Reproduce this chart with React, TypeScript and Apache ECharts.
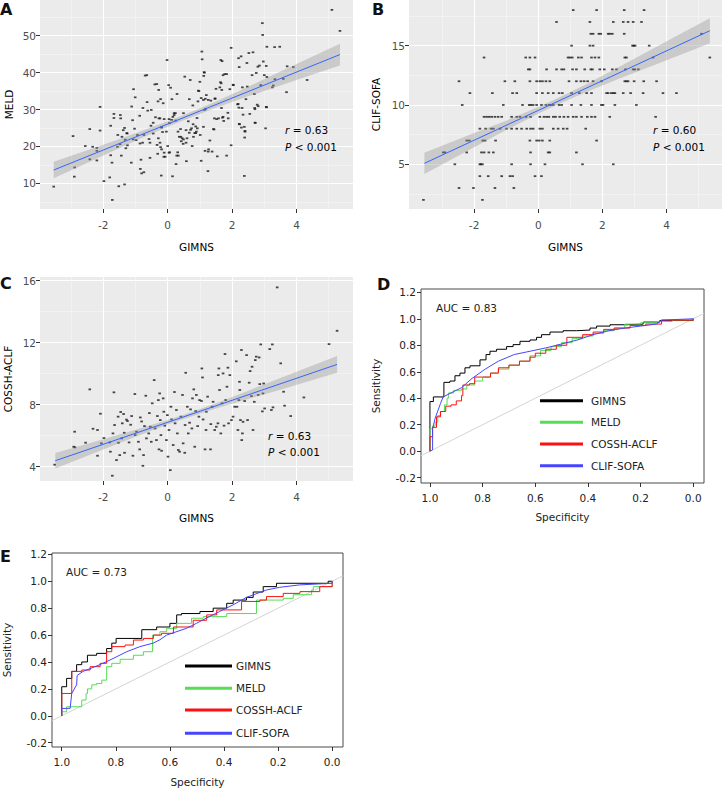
import React, { useEffect, useRef } from "react";
import * as echarts from "echarts";

const FONT = "DejaVu Sans";

// ---------- Panel A: GIMNS vs MELD ----------
const aGimns = [
  -3.54, -2.94, -2.9, -2.89, -2.56, -2.42, -2.42, -2.33, -2.2, -2.2, -2.2, -2.1, -2.1, -1.98, -1.8, -1.77, -1.73, -1.72, -1.77, -1.67,
  -1.67, -1.56, -1.52, -1.55, -1.47, -1.46, -1.44, -1.42, -1.34, -1.34, -1.32, -1.3, -1.26, -1.25, -1.12, -1.13, -1.09, -1.06, -1.03, -1.01,
  -0.98, -0.94, -0.87, -0.85, -0.83, -0.81, -0.78, -0.77, -0.74, -0.74, -0.7, -0.65, -0.62, -0.58, -0.55, -0.52, -0.51, -0.45, -0.4, -0.38,
  -0.33, -0.31, -0.3, -0.28, -0.27, -0.24, -0.2, -0.19, -0.19, -0.16, -0.14, -0.11, -0.11, -0.08, -0.02, 0.0, 0.03, 0.05, 0.06, 0.09,
  0.13, 0.15, 0.16, 0.2, 0.24, 0.26, 0.29, 0.31, 0.33, 0.36, 0.4, 0.42, 0.45, 0.48, 0.49, 0.53, 0.57, 0.58, 0.6, 0.64,
  0.67, 0.7, 0.71, 0.76, 0.78, 0.79, 0.84, 0.87, 0.89, 0.91, 0.94, 0.97, 1.0, 1.01, 1.04, 1.06, 1.07, 1.11, 1.12, 1.13,
  1.14, 1.17, 1.18, 1.2, 1.25, 1.27, 1.31, 1.34, 1.38, 1.42, 1.47, 1.5, 1.54, 1.58, 1.62, 1.64, 1.65, 1.67, 1.69, 1.7,
  1.72, 1.74, 1.77, 1.83, 1.87, 1.97, 1.97, 2.03, 2.17, 2.2, 2.21, 2.22, 2.23, 2.28, 2.29, 2.31, 2.32, 2.34, 2.38, 2.39,
  2.4, 2.43, 2.46, 2.47, 2.52, 2.55, 2.62, 2.65, 2.69, 2.7, 2.72, 2.75, 2.78, 2.8, 2.85, 2.89, 2.94, 2.95, 2.97, 3.0,
  3.04, 3.06, 3.06, 3.08, 3.08, 3.25, 3.28, 3.32, 3.33, 3.48, 3.59, 3.69, 3.71, 3.9, 4.33, 5.1, 5.35,
  -0.64, -0.34, -0.22, -0.24, -0.19, -0.04, 0.04, 0.12, 0.2, 0.25, 0.32, 0.41, 0.49, 0.57, 0.67, 0.74, 0.8, 0.87, 0.92, -0.29,
  -0.22, -0.12, 0.04, 0.28, -0.45, -0.55, -0.86, -1.07, -1.27, -1.38, -1.48, 1.14, 0.95, 1.11, 1.26, 1.47, 1.66, 1.68, 1.93, 1.83,
  2.04, 2.19, 2.4, 2.38, 2.22, 1.45, 1.52, 1.88, 1.72, 1.26, 1.16, 1.04, 1.44, 2.71, 2.81, 3.07, 2.71,
];
const aMeld = [
  9.1, 22.8, 11.8, 14.3, 20.1, 24.7, 16.5, 19.9, 19.6, 18.8, 16.2, 24.3, 30.7, 10.6, 11.6, 25.6, 15.6, 5.5, 17.6, 28.8,
  27.7, 19.9, 9.2, 23.1, 28.5, 27.6, 17.5, 22.6, 25.0, 9.7, 21.8, 19.5, 23.5, 20.3, 30.8, 15.6, 27.1, 35.5, 24.8, 33.3,
  21.7, 23.1, 28.3, 13.9, 16.4, 12.7, 21.0, 30.4, 13.0, 23.1, 39.2, 39.3, 29.7, 22.0, 16.9, 25.6, 29.9, 23.5, 36.8, 27.9,
  20.4, 18.0, 32.2, 35.3, 27.6, 21.0, 12.1, 25.1, 19.2, 23.9, 31.7, 27.4, 18.3, 17.2, 43.4, 20.1, 36.6, 26.3, 18.4, 35.9,
  32.8, 11.9, 28.0, 29.0, 29.0, 15.2, 34.2, 18.4, 17.5, 22.6, 24.7, 21.4, 22.2, 20.7, 29.0, 38.9, 24.4, 16.0, 22.2, 26.8,
  32.8, 38.0, 24.5, 20.1, 31.1, 26.0, 23.6, 25.4, 24.0, 27.7, 32.2, 35.0, 37.5, 23.1, 33.1, 45.7, 43.6, 25.3, 39.1, 40.1,
  29.9, 32.9, 30.2, 33.9, 13.3, 19.2, 21.6, 32.4, 18.6, 24.7, 32.9, 35.6, 17.3, 27.6, 36.0, 37.4, 43.4, 30.4, 43.1, 27.8,
  39.3, 26.9, 39.6, 17.5, 29.1, 46.7, 20.3, 36.7, 31.4, 43.9, 30.5, 41.5, 26.0, 44.4, 25.1, 30.4, 36.0, 28.6, 12.0, 22.4,
  24.2, 32.8, 42.6, 36.2, 45.3, 28.8, 39.3, 45.5, 34.2, 30.4, 26.4, 39.9, 31.3, 41.6, 41.9, 36.6, 53.4, 50.2, 43.0, 39.3,
  24.9, 30.7, 41.8, 47.0, 38.8, 36.0, 36.5, 46.9, 38.2, 47.0, 38.3, 34.7, 41.7, 41.5, 38.0, 57.0, 51.3,
  32.0, 36.9, 32.8, 27.6, 25.3, 24.0, 27.4, 27.2, 28.5, 27.0, 24.0, 22.6, 21.9, 21.0, 23.7, 24.9, 22.6, 23.6, 24.9, 22.2,
  19.8, 17.2, 18.3, 17.5, 26.4, 21.0, 20.8, 21.9, 23.6, 24.4, 20.6, 40.0, 35.1, 32.6, 32.6, 33.0, 37.1, 35.3, 35.5, 39.6,
  36.6, 31.5, 24.0, 25.3, 26.1, 27.6, 27.4, 27.6, 28.0, 18.6, 18.8, 16.1, 24.6, 30.1, 30.9, 30.6, 26.4,
];
const aFitX = [-3.54, 5.35];
const aFitY = [13.6, 44.89];
const aBandX = [-3.54, -2, -1, 0, 0.5, 1.5, 2.5, 3.5, 4.5, 5.35];
const aBandLow = [11.35, 17.57, 21.54, 25.31, 27.12, 30.49, 33.56, 36.48, 39.45, 41.94];
const aBandHigh = [15.85, 20.47, 23.54, 26.81, 28.52, 32.19, 36.16, 40.28, 44.35, 47.84];

// ---------- Panel B: GIMNS vs CLIF-SOFA (integer scores) ----------
const bSofaLevels = [18, 17, 16, 15, 14, 13, 12, 11, 10, 9, 8, 7, 6, 5, 4, 3, 2];
const bGimnsByLevel = [
  [1.09, 1.82, 2.68, 3.3],
  [0.57, 1.61, 2.34, 2.65, 2.8, 2.96, 3.22],
  [1.64, 1.71, 1.89, 1.95, 2.18, 2.23, 2.31, 2.68, 5.09],
  [1.04, 1.61, 1.71, 2.94, 2.98, 3.02, 3.46],
  [-1.69, -0.39, -0.26, -0.1, 0.93, 0.99, 1.06, 1.25, 1.35, 1.66, 1.77, 1.89, 2.7, 2.75, 3.58, 5.35],
  [-0.31, -0.26, 0.26, 0.57, 0.73, 0.8, 1.07, 1.19, 1.45, 1.64, 1.69, 1.92, 2.06, 2.31, 2.44, 2.72, 2.96, 3.01, 3.12],
  [-2.47, -1.04, -0.73, -0.26, -0.05, 0.05, 0.13, 0.24, 0.36, 0.96, 1.19, 1.33, 1.43, 1.54, 1.71, 1.97, 2.7, 2.75, 2.8, 2.99, 3.29, 3.69],
  [-2.13, -1.43, -0.8, -0.67, -0.05, 0.13, 0.31, 0.47, 0.65, 0.75, 1.04, 1.28, 1.51, 1.66, 2.13, 2.18, 2.28, 2.34, 2.39, 2.65, 2.88, 3.27, 3.89, 4.31],
  [-2.37, -1.09, -0.49, -0.28, -0.23, -0.16, -0.05, 0.1, 0.24, 0.34, 0.39, 0.47, 0.65, 0.73, 1.04, 1.33, 1.66, 1.97, 2.02, 2.39, 3.06],
  [-1.69, -1.61, -1.53, -1.45, -1.35, -1.25, -1.14, -0.83, -0.67, -0.57, -0.38, -0.24, 0.05, 0.18, 0.26, 0.33, 0.47, 0.54, 0.67, 0.8, 0.93, 1.09, 1.19, 1.35, 1.53, 1.66, 1.77, 2.23, 3.66],
  [-1.82, -1.64, -1.47, -1.4, -1.19, -0.99, -0.83, -0.67, -0.52, -0.36, -0.24, -0.16, 0.05, 0.13, 0.47, 0.62, 0.78, 0.9, 1.48],
  [-2.23, -2.15, -1.73, -1.66, -1.33, -0.26, -0.05, 0.03, 0.13, 0.36, 1.82],
  [-2.96, -2.91, -2.23, -1.77, -1.69, -1.54, -1.4, -0.24, 0.31, 0.36, 1.19],
  [-2.6, -1.82, -1.79, -1.74, -0.83, -0.24, 0.21, 1.38, 2.34],
  [-1.82, -1.56, -1.14, -0.88, -0.8, -0.1, 0.1],
  [-2.47, -2.02, -1.35, -0.76],
  [-3.58, -1.74],
];
const bFitX = [-3.55, 5.35];
const bFitY = [5.08, 16.26];
const bBandX = [-3.55, -2, -1, 0, 0.5, 1.5, 2.5, 3.5, 4.5, 5.35];
const bBandLow = [4.18, 6.43, 7.88, 9.26, 9.91, 11.1, 12.18, 13.24, 14.29, 15.21];
const bBandHigh = [5.98, 7.63, 8.68, 9.82, 10.43, 11.74, 13.18, 14.64, 16.09, 17.31];

// ---------- Panel C: GIMNS vs COSSH-ACLF ----------
const cGimns = [
  -3.51, -2.89, -2.92, -2.88, -2.55, -2.42, -2.32, -2.18, -2.18, -2.09, -2.06, -1.98, -1.8, -1.78, -1.72, -1.7, -1.67, -1.65, -1.59, -1.54,
  -1.53, -1.49, -1.46, -1.43, -1.41, -1.37, -1.35, -1.34, -1.28, -1.25, -1.2, -1.15, -1.12, -1.08, -1.02, -1.01, -0.97, -0.91, -0.87, -0.85,
  -0.81, -0.77, -0.75, -0.72, -0.68, -0.66, -0.59, -0.57, -0.54, -0.51, -0.48, -0.42, -0.39, -0.35, -0.32, -0.29, -0.27, -0.25, -0.23, -0.21,
  -0.19, -0.14, -0.12, -0.09, -0.04, -0.01, 0.01, 0.04, 0.08, 0.1, 0.12, 0.17, 0.21, 0.23, 0.27, 0.3, 0.33, 0.37, 0.41, 0.46,
  0.48, 0.53, 0.54, 0.56, 0.61, 0.64, 0.68, 0.71, 0.75, 0.77, 0.81, 0.84, 0.87, 0.89, 0.93, 0.97, 0.99, 1.05, 1.06, 1.08,
  1.1, 1.16, 1.19, 1.2, 1.24, 1.33, 1.34, 1.38, 1.41, 1.46, 1.51, 1.56, 1.57, 1.59, 1.61, 1.65, 1.69, 1.72, 1.75, 1.78,
  1.8, 1.84, 1.87, 1.89, 1.93, 1.98, 2.03, 2.08, 2.13, 2.15, 2.18, 2.21, 2.23, 2.24, 2.26, 2.29, 2.3, 2.32, 2.34, 2.39,
  2.45, 2.48, 2.53, 2.56, 2.6, 2.62, 2.65, 2.69, 2.72, 2.75, 2.81, 2.84, 2.86, 2.89, 2.94, 2.96, 2.98, 3.01, 3.17, 3.22,
  3.25, 3.27, 3.4, 3.51, 3.6, 3.63, 3.82, 4.23, 5.01, 5.26,
];
const cCossh = [
  4.13, 6.26, 5.29, 5.25, 5.55, 8.99, 6.45, 6.37, 4.71, 7.42, 5.51, 5.85, 5.57, 4.97, 3.42, 6.15, 8.8, 6.69, 4.43, 7.23,
  5.55, 4.75, 7.53, 5.83, 6.8, 7.4, 6.19, 4.9, 7.04, 6.95, 5.57, 6.71, 7.27, 4.71, 8.69, 6.04, 6.26, 5.61, 5.12, 7.18,
  6.92, 4.06, 4.75, 6.62, 8.58, 5.83, 6.15, 7.46, 6.58, 5.61, 8.09, 9.59, 6.47, 5.72, 7.27, 8.3, 5.12, 8.73, 7.01, 6.04,
  5.03, 8.41, 7.55, 6.65, 5.72, 7.33, 4.65, 6.37, 3.78, 7.87, 7.05, 5.4, 8.82, 6.8, 7.66, 6.15, 5.08, 4.97, 7.23, 8.63,
  5.51, 4.9, 6.69, 10.06, 7.87, 6.15, 6.84, 7.7, 6.47, 8.41, 8.99, 5.29, 7.59, 8.63, 6.62, 7.23, 8.3, 8.24, 10.34, 9.76,
  7.05, 5.12, 6.37, 7.55, 8.52, 5.12, 6.75, 7.87, 8.19, 6.37, 6.58, 6.8, 9.91, 10.34, 8.95, 6.15, 8.09, 10.02, 6.65, 11.27,
  8.3, 9.16, 10.39, 6.8, 9.91, 7.01, 7.23, 7.87, 10.8, 7.87, 6.37, 8.3, 9.48, 8.95, 7.01, 11.53, 5.72, 6.15, 6.9, 8.24,
  11.2, 7.01, 9.42, 10.17, 8.56, 10.45, 6.37, 8.19, 10.88, 11.1, 8.63, 11.05, 9.33, 11.89, 7.57, 8.73, 9.37, 7.76, 11.59, 7.66,
  11.89, 7.83, 15.57, 10.67, 8.84, 7.94, 7.27, 8.47, 11.91, 12.77,
];
const cFitX = [-3.49, 5.26];
const cFitY = [4.39, 10.6];
const cBandX = [-3.49, -2, -1, 0, 0.5, 1.5, 2.5, 3.5, 4.5, 5.26];
const cBandLow = [3.89, 5.12, 5.94, 6.72, 7.08, 7.76, 8.37, 8.97, 9.59, 10.06];
const cBandHigh = [4.89, 5.78, 6.38, 7.02, 7.36, 8.1, 8.91, 9.73, 10.53, 11.14];

// ---------- Panel D: ROC curves (specificity, sensitivity) ----------
const dGimnsSpec = [1.0, 1.0, 0.987, 0.947, 0.924, 0.905, 0.886, 0.867, 0.848, 0.81, 0.787, 0.772, 0.747, 0.709, 0.684, 0.658, 0.62, 0.595, 0.576, 0.544, 0.494, 0.443, 0.392, 0.367, 0.316, 0.253, 0.19, 0.127, 0.0];
const dGimnsSens = [0, 0.375, 0.41, 0.52, 0.53, 0.57, 0.59, 0.63, 0.645, 0.69, 0.73, 0.755, 0.77, 0.79, 0.805, 0.83, 0.84, 0.86, 0.88, 0.9, 0.91, 0.915, 0.93, 0.945, 0.955, 0.96, 0.975, 0.987, 1.0];
const dMeldSpec = [1.0, 1.0, 0.99, 0.98, 0.97, 0.96, 0.945, 0.935, 0.93, 0.91, 0.88, 0.86, 0.83, 0.8, 0.77, 0.74, 0.7, 0.66, 0.62, 0.58, 0.54, 0.5, 0.46, 0.42, 0.38, 0.34, 0.3, 0.26, 0.2, 0.14, 0.08, 0.0];
const dMeldSens = [0, 0.17, 0.19, 0.22, 0.27, 0.3, 0.35, 0.4, 0.44, 0.46, 0.47, 0.5, 0.53, 0.56, 0.59, 0.62, 0.65, 0.68, 0.72, 0.76, 0.79, 0.82, 0.85, 0.87, 0.89, 0.91, 0.93, 0.96, 0.97, 0.98, 0.99, 1.0];
const dCosshSpec = [1.0, 1.0, 0.99, 0.975, 0.96, 0.94, 0.92, 0.9, 0.88, 0.875, 0.85, 0.83, 0.8, 0.77, 0.74, 0.7, 0.66, 0.62, 0.6, 0.56, 0.52, 0.48, 0.45, 0.42, 0.38, 0.34, 0.3, 0.24, 0.18, 0.12, 0.08, 0.0];
const dCosshSens = [0, 0.11, 0.18, 0.26, 0.3, 0.34, 0.35, 0.38, 0.42, 0.5, 0.51, 0.56, 0.56, 0.59, 0.63, 0.65, 0.68, 0.71, 0.74, 0.77, 0.8, 0.86, 0.86, 0.88, 0.9, 0.92, 0.93, 0.95, 0.96, 0.99, 0.99, 1.0];
const dClifSpec = [1.0, 0.99, 0.99, 0.98, 0.96, 0.95, 0.92, 0.88, 0.84, 0.79, 0.74, 0.68, 0.62, 0.56, 0.5, 0.44, 0.38, 0.32, 0.26, 0.2, 0.14, 0.12, 0.0];
const dClifSens = [0, 0.01, 0.17, 0.25, 0.36, 0.41, 0.44, 0.48, 0.55, 0.62, 0.68, 0.73, 0.755, 0.78, 0.81, 0.84, 0.88, 0.91, 0.93, 0.945, 0.96, 0.99, 1.0];

// ---------- Panel E: ROC curves ----------
const eGimnsSpec = [1.0, 1.0, 0.982, 0.963, 0.945, 0.926, 0.905, 0.871, 0.834, 0.815, 0.799, 0.704, 0.649, 0.6, 0.575, 0.557, 0.489, 0.44, 0.39, 0.366, 0.317, 0.292, 0.255, 0.206, 0.015, 0.0];
const eGimnsSens = [0, 0.216, 0.278, 0.33, 0.38, 0.4, 0.45, 0.464, 0.5, 0.54, 0.575, 0.64, 0.66, 0.687, 0.75, 0.76, 0.775, 0.8, 0.836, 0.86, 0.88, 0.92, 0.96, 0.985, 1.0, 1.0];
const eMeldSpec = [1.0, 1.0, 0.982, 0.926, 0.91, 0.905, 0.889, 0.871, 0.852, 0.834, 0.815, 0.784, 0.735, 0.698, 0.664, 0.664, 0.637, 0.612, 0.575, 0.52, 0.477, 0.39, 0.28, 0.181, 0.144, 0.076, 0.07, 0.0, 0.0];
const eMeldSens = [0, 0.03, 0.067, 0.117, 0.166, 0.2, 0.23, 0.24, 0.265, 0.365, 0.39, 0.42, 0.45, 0.476, 0.51, 0.6, 0.625, 0.65, 0.687, 0.725, 0.737, 0.76, 0.86, 0.873, 0.9, 0.935, 0.96, 0.975, 1.0];
const eCosshSpec = [1.0, 1.0, 0.963, 0.926, 0.895, 0.858, 0.834, 0.815, 0.766, 0.735, 0.698, 0.661, 0.631, 0.587, 0.514, 0.464, 0.427, 0.335, 0.267, 0.243, 0.181, 0.119, 0.046, 0.0];
const eCosshSens = [0, 0.166, 0.33, 0.34, 0.365, 0.39, 0.476, 0.514, 0.526, 0.563, 0.575, 0.6, 0.613, 0.66, 0.71, 0.75, 0.787, 0.85, 0.86, 0.886, 0.91, 0.923, 0.96, 1.0];
const eClifSpec = [1.0, 1.0, 0.969, 0.963, 0.945, 0.943, 0.921, 0.859, 0.822, 0.76, 0.711, 0.662, 0.637, 0.612, 0.539, 0.502, 0.466, 0.416, 0.367, 0.317, 0.243, 0.194, 0.12, 0.0, 0.0];
const eClifSens = [0, 0.055, 0.055, 0.166, 0.23, 0.3, 0.33, 0.38, 0.414, 0.476, 0.514, 0.54, 0.565, 0.6, 0.65, 0.687, 0.725, 0.775, 0.824, 0.88, 0.935, 0.955, 0.973, 0.985, 1.0];

// ---------- Tick values ----------
const gimnsTicks = [-2, 0, 2, 4];
const gimnsMinor = [-3, -1, 1, 3, 5];
const meldTicks = [10, 20, 30, 40, 50];
const meldMinor = [5, 15, 25, 35, 45, 55];
const sofaTicks = [5, 10, 15];
const sofaMinor = [2.5, 7.5, 12.5, 17.5];
const cosshTicks = [4, 8, 12, 16];
const cosshMinor = [6, 10, 14];
const specTicks = [0, 0.2, 0.4, 0.6, 0.8, 1.0];
const sensTicks = [-0.2, 0, 0.2, 0.4, 0.6, 0.8, 1.0, 1.2];
const rocNames = ["GIMNS", "MELD", "COSSH-ACLF", "CLIF-SOFA"];
const rocColors = ["#000000", "#55dd55", "#ff1010", "#4545ff"];

// ---------- Axis extents ----------
const gx = { min: -3.966, max: 5.755 };
const gxB = { min: -4.03, max: 5.73 };
const ext = {
  aY: { min: 3.04, max: 59.67 },
  bY: { min: 1.23, max: 18.85 },
  cY: { min: 3.08, max: 16.24 },
  dX: { min: -0.041, max: 1.034 },
  dY: { min: -0.24, max: 1.225 },
  eX: { min: -0.04, max: 1.036 },
  eY: { min: -0.232, max: 1.21 },
};

const zip = (xs: number[], ys: number[]) => xs.map((x, i) => [x, ys[i]]);

function ggMajor(dim: "x" | "y", grid: number, range: { min: number; max: number }, ticks: number[], name: string, nameGap: number) {
  return {
    type: "value",
    gridIndex: grid,
    min: range.min,
    max: range.max,
    position: dim === "x" ? "bottom" : "left",
    name,
    nameLocation: "middle",
    nameGap,
    nameTextStyle: { fontFamily: FONT, fontSize: 10.5, color: "#000" },
    axisLine: { show: false, onZero: false },
    axisTick: { show: true, length: 4, customValues: ticks, lineStyle: { color: "#333", width: 1 } },
    axisLabel: { show: true, customValues: ticks, margin: dim === "x" ? 10 : 4, fontFamily: FONT, fontSize: 10.5, color: "#4d4d4d" },
    splitLine: { show: true, lineStyle: { color: "#ffffff", width: 1.1 } },
    minorTick: { show: false },
    minorSplitLine: { show: false },
  };
}

function ggMinor(dim: "x" | "y", grid: number, range: { min: number; max: number }, ticks: number[]) {
  return {
    type: "value",
    gridIndex: grid,
    min: range.min,
    max: range.max,
    position: dim === "x" ? "bottom" : "left",
    axisLine: { show: false, onZero: false },
    axisTick: { show: false, customValues: ticks },
    axisLabel: { show: false, customValues: ticks },
    splitLine: { show: true, lineStyle: { color: "#f7f7f7", width: 0.6 } },
  };
}

function rocAxis(dim: "x" | "y", grid: number, range: { min: number; max: number }, ticks: number[], name: string, nameGap: number) {
  return {
    type: "value",
    gridIndex: grid,
    min: range.min,
    max: range.max,
    inverse: dim === "x",
    position: dim === "x" ? "bottom" : "left",
    name,
    nameLocation: "middle",
    nameGap,
    nameTextStyle: { fontFamily: FONT, fontSize: 10.5, color: "#222" },
    axisLine: { show: false, onZero: false },
    axisTick: { show: true, length: 4, customValues: ticks, lineStyle: { color: "#333", width: 1 } },
    axisLabel: {
      show: true,
      customValues: ticks,
      margin: dim === "x" ? 9 : 5,
      fontFamily: FONT,
      fontSize: 10.5,
      color: "#222",
      formatter: (v: number) => v.toFixed(1),
    },
    splitLine: { show: false },
  };
}

function fitSeries(idx: number, fitX: number[], fitY: number[], bandX: number[], low: number[], high: number[]) {
  return [
    {
      type: "custom",
      xAxisIndex: idx,
      yAxisIndex: idx,
      silent: true,
      z: 3,
      data: [[bandX[0], low[0]]],
      renderItem: (_params: any, api: any) => {
        const upper = bandX.map((x, i) => api.coord([x, high[i]]));
        const lower = bandX.map((x, i) => api.coord([x, low[i]])).reverse();
        return {
          type: "polygon",
          shape: { points: upper.concat(lower) },
          style: { fill: "rgba(153,153,153,0.4)", stroke: "none" },
        };
      },
    },
    {
      type: "line", xAxisIndex: idx, yAxisIndex: idx, data: zip(fitX, fitY), symbol: "none",
      lineStyle: { color: "#3366FF", width: 1 }, silent: true, z: 4,
    },
  ];
}

function scatterSeries(idx: number, data: number[][]) {
  return {
    type: "scatter", xAxisIndex: idx, yAxisIndex: idx, data, symbol: "rect", symbolSize: [2.6, 1.8],
    itemStyle: { color: "#1a1a1a" }, silent: true, z: 2,
  };
}

function rocSeries(idx: number, spec: number[], sens: number[], color: string, step: boolean) {
  return {
    type: "line", xAxisIndex: idx, yAxisIndex: idx, data: zip(spec, sens), step: step ? "end" : false, symbol: "none",
    lineStyle: { color, width: 1 }, silent: true, z: 3,
  };
}

function diagSeries(idx: number, x: { min: number; max: number }) {
  return {
    type: "line", xAxisIndex: idx, yAxisIndex: idx, data: [[x.max, 1 - x.max], [x.min, 1 - x.min]], symbol: "none",
    lineStyle: { color: "#d4d4d4", width: 1 }, silent: true, z: 2,
  };
}

const txt = (x: number, y: number, text: string, extra: any = {}) => ({
  type: "text", x, y, silent: true, z: 10,
  style: { text, fontFamily: FONT, fontSize: 10.5, fill: "#000", verticalAlign: "middle", align: "left", ...extra },
});
const italicRich = { i: { fontStyle: "italic", fontFamily: FONT, fontSize: 10.5, fill: "#000" } };
const letter = (x: number, y: number, t: string) => txt(x, y, t, { fontSize: 16, fontWeight: "bold", verticalAlign: "top", fill: "#111" });

function legendBlock(x0: number, x1: number, ys: number[], tx: number) {
  const items: any[] = [];
  rocNames.forEach((n, i) => {
    items.push({ type: "line", silent: true, z: 10, shape: { x1: x0, y1: ys[i], x2: x1, y2: ys[i] }, style: { stroke: rocColors[i], lineWidth: 3 } });
    items.push(txt(tx, ys[i], n, { fill: "#222" }));
  });
  return items;
}

function buildOption() {
  const bData: number[][] = [];
  bSofaLevels.forEach((lv, i) => bGimnsByLevel[i].forEach((g) => bData.push([g, lv])));

  const grids = [
    { left: 40, top: 0, width: 313, height: 209, show: true, backgroundColor: "#EBEBEB", borderWidth: 0, outerBoundsMode: "none" },
    { left: 409, top: 0, width: 313, height: 209, show: true, backgroundColor: "#EBEBEB", borderWidth: 0, outerBoundsMode: "none" },
    { left: 40, top: 277, width: 313, height: 204, show: true, backgroundColor: "#EBEBEB", borderWidth: 0, outerBoundsMode: "none" },
    { left: 421, top: 289, width: 283, height: 194, show: true, backgroundColor: "transparent", borderColor: "#4a4a4a", borderWidth: 1, outerBoundsMode: "none" },
    { left: 52, top: 553, width: 291, height: 194, show: true, backgroundColor: "transparent", borderColor: "#4a4a4a", borderWidth: 1, outerBoundsMode: "none" },
  ];

  const xAxis = [
    ggMajor("x", 0, gx, gimnsTicks, "GIMNS", 32),
    ggMajor("x", 1, gxB, gimnsTicks, "GIMNS", 32),
    ggMajor("x", 2, gx, gimnsTicks, "GIMNS", 31),
    rocAxis("x", 3, ext.dX, specTicks, "Specificity", 28),
    rocAxis("x", 4, ext.eX, specTicks, "Specificity", 29),
    ggMinor("x", 0, gx, gimnsMinor),
    ggMinor("x", 1, gxB, gimnsMinor),
    ggMinor("x", 2, gx, gimnsMinor),
  ];
  const yAxis = [
    ggMajor("y", 0, ext.aY, meldTicks, "MELD", 26),
    ggMajor("y", 1, ext.bY, sofaTicks, "CLIF-SOFA", 28),
    ggMajor("y", 2, ext.cY, cosshTicks, "COSSH-ACLF", 27),
    rocAxis("y", 3, ext.dY, sensTicks, "Sensitivity", 40),
    rocAxis("y", 4, ext.eY, sensTicks, "Sensitivity", 40),
    ggMinor("y", 0, ext.aY, meldMinor),
    ggMinor("y", 1, ext.bY, sofaMinor),
    ggMinor("y", 2, ext.cY, cosshMinor),
  ];

  const series: any[] = [
    { type: "line", xAxisIndex: 5, yAxisIndex: 5, data: [], silent: true },
    { type: "line", xAxisIndex: 6, yAxisIndex: 6, data: [], silent: true },
    { type: "line", xAxisIndex: 7, yAxisIndex: 7, data: [], silent: true },
    scatterSeries(0, zip(aGimns, aMeld)),
    ...fitSeries(0, aFitX, aFitY, aBandX, aBandLow, aBandHigh),
    scatterSeries(1, bData),
    ...fitSeries(1, bFitX, bFitY, bBandX, bBandLow, bBandHigh),
    scatterSeries(2, zip(cGimns, cCossh)),
    ...fitSeries(2, cFitX, cFitY, cBandX, cBandLow, cBandHigh),
    diagSeries(3, ext.dX),
    rocSeries(3, dGimnsSpec, dGimnsSens, rocColors[0], true),
    rocSeries(3, dMeldSpec, dMeldSens, rocColors[1], true),
    rocSeries(3, dCosshSpec, dCosshSens, rocColors[2], true),
    rocSeries(3, dClifSpec, dClifSens, rocColors[3], false),
    diagSeries(4, ext.eX),
    rocSeries(4, eGimnsSpec, eGimnsSens, rocColors[0], true),
    rocSeries(4, eMeldSpec, eMeldSens, rocColors[1], true),
    rocSeries(4, eCosshSpec, eCosshSens, rocColors[2], true),
    rocSeries(4, eClifSpec, eClifSens, rocColors[3], false),
  ];

  const graphic: any[] = [
    letter(0, 1, "A"),
    letter(372, 1, "B"),
    letter(0, 275, "C"),
    letter(377, 276, "D"),
    letter(0, 548, "E"),
    txt(285, 130, "{i|r} = 0.63", { rich: italicRich }),
    txt(285, 147, "{i|P} < 0.001", { rich: italicRich }),
    txt(653, 130, "{i|r} = 0.60", { rich: italicRich }),
    txt(653, 147, "{i|P} < 0.001", { rich: italicRich }),
    txt(268, 436, "{i|r} = 0.63", { rich: italicRich }),
    txt(268, 452, "{i|P} < 0.001", { rich: italicRich }),
    txt(436, 308, "AUC = 0.83", { fill: "#222" }),
    txt(66, 572, "AUC = 0.73", { fill: "#222" }),
    ...legendBlock(540, 583, [400.7, 422.3, 444, 465.7], 591),
    ...legendBlock(185, 232, [666, 688.3, 710, 733.3], 236),
  ];

  return {
    animation: false,
    backgroundColor: "#ffffff",
    textStyle: { fontFamily: FONT },
    grid: grids,
    xAxis,
    yAxis,
    series,
    graphic,
  };
}

export default function App() {
  const ref = useRef<HTMLDivElement>(null);
  useEffect(() => {
    if (!ref.current) return;
    const chart = echarts.init(ref.current, undefined, { renderer: "svg" });
    chart.setOption(buildOption() as any);
    return () => chart.dispose();
  }, []);
  return <div ref={ref} style={{ position: "absolute", left: 0, top: 0, width: 725, height: 792 }} />;
}
